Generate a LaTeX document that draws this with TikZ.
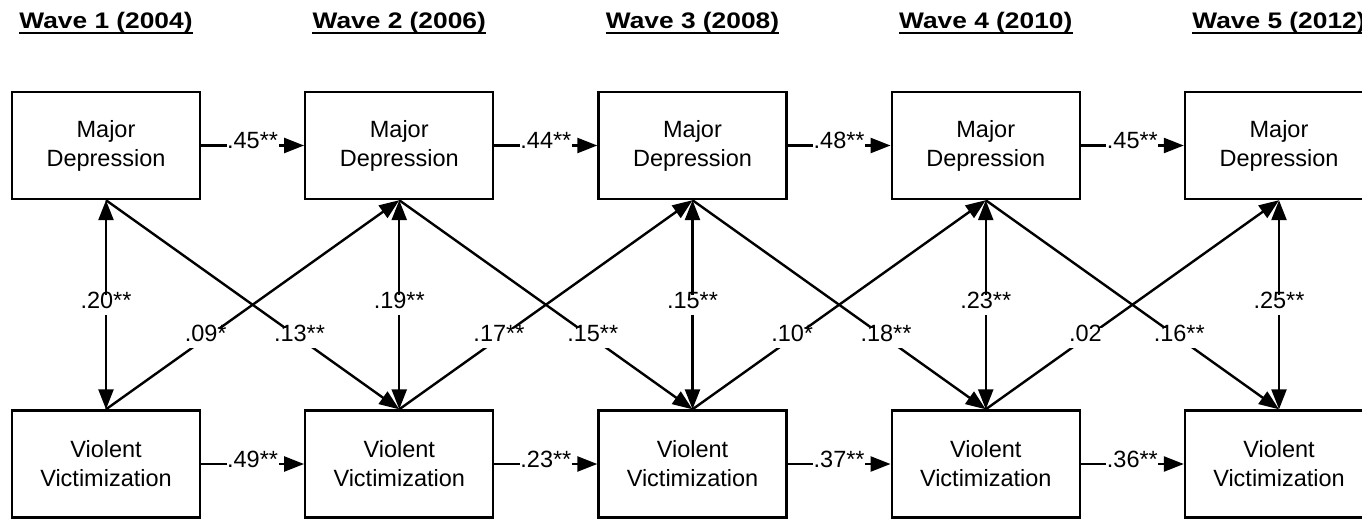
\documentclass[tikz,border=0pt]{standalone}
\usepackage{fontspec}
\setmainfont{Liberation Sans}
\usetikzlibrary{arrows.meta}
\begin{document}
\begin{tikzpicture}[x=1pt,y=-1pt,
  box/.style={draw, line width=2.4pt, minimum width=188pt, minimum height=107pt, align=center,
    font=\fontsize{23.5}{29}\selectfont, inner sep=0pt},
  conn/.style={line width=2.4pt, -{Triangle[length=20pt,width=15pt]}},
  both/.style={line width=2.4pt, {Triangle[length=20pt,width=15pt]}-{Triangle[length=20pt,width=15pt]}},
  lab/.style={fill=white, font=\fontsize{23.5}{29}\selectfont, inner xsep=0.5pt, inner ysep=6pt,
    text height=0.72em, text depth=0.05em},
  head/.style={font=\fontsize{22.5}{27}\bfseries\selectfont, inner sep=0pt, anchor=base},
  uline/.style={line width=2pt}]
\useasboundingbox (0,0) rectangle (1362,519);
\clip (0,0) rectangle (1362,519);

% headings
\foreach \i/\x/\yr in {1/106/2004,2/399.25/2006,3/692.5/2008,4/985.75/2010,5/1279/2012}{
  \node[head] (H\i) at (\x,29) {\scalebox{1.17}[1]{Wave \i\ (\yr)}};
  \draw[uline] ([yshift=-4pt]H\i.base west) -- ([yshift=-4pt]H\i.base east);
}

% boxes
\foreach \i/\x in {1/106,2/399.25,3/692.5,4/985.75,5/1279}{
  \node[box] (T\i) at (\x,145.5) {Major\\Depression};
  \node[box] (B\i) at (\x,464) {Violent\\Victimization};
}

% horizontal arrows
\draw[conn] (T1.east) -- node[lab]{.45**} (T2.west);
\draw[conn] (T2.east) -- node[lab]{.44**} (T3.west);
\draw[conn] (T3.east) -- node[lab]{.48**} (T4.west);
\draw[conn] (T4.east) -- node[lab]{.45**} (T5.west);
\draw[conn] (B1.east) -- node[lab]{.49**} (B2.west);
\draw[conn] (B2.east) -- node[lab]{.23**} (B3.west);
\draw[conn] (B3.east) -- node[lab]{.37**} (B4.west);
\draw[conn] (B4.east) -- node[lab]{.36**} (B5.west);

% vertical double arrows
\draw[both] (T1.south) -- node[lab]{.20**} (B1.north);
\draw[both] (T2.south) -- node[lab]{.19**} (B2.north);
\draw[both] (T3.south) -- node[lab]{.15**} (B3.north);
\draw[both] (T4.south) -- node[lab]{.23**} (B4.north);
\draw[both] (T5.south) -- node[lab]{.25**} (B5.north);

% cross-lagged: depression -> victimization
\draw[conn] (T1.south) -- node[lab,pos=0.66]{.13**} (B2.north);
\draw[conn] (T2.south) -- node[lab,pos=0.66]{.15**} (B3.north);
\draw[conn] (T3.south) -- node[lab,pos=0.66]{.18**} (B4.north);
\draw[conn] (T4.south) -- node[lab,pos=0.66]{.16**} (B5.north);

% cross-lagged: victimization -> depression
\draw[conn] (B1.north) -- node[lab,pos=0.34]{.09*} (T2.south);
\draw[conn] (B2.north) -- node[lab,pos=0.34]{.17**} (T3.south);
\draw[conn] (B3.north) -- node[lab,pos=0.34]{.10*} (T4.south);
\draw[conn] (B4.north) -- node[lab,pos=0.34]{.02} (T5.south);
\end{tikzpicture}
\end{document}
